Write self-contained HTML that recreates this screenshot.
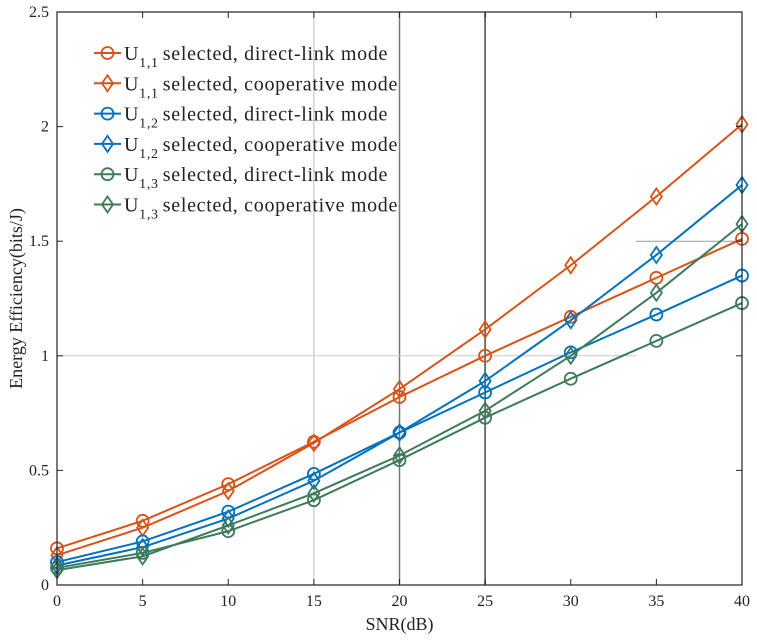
<!DOCTYPE html>
<html><head><meta charset="utf-8"><style>
body{margin:0;background:#fff;}
svg text{font-family:"Liberation Serif",serif;fill:#222;}
</style></head><body>
<svg id="chart" width="757" height="638" xmlns="http://www.w3.org/2000/svg">
<g id="grid"></g>
<g id="series"></g>
<g id="axes"></g>
<g id="legend"></g>
</svg>
<script>
const snr = [0,5,10,15,20,25,30,35,40];
const u11Direct = [0.16,0.28,0.44,0.625,0.82,1.0,1.17,1.34,1.51];
const u11Coop = [0.13,0.25,0.41,0.62,0.855,1.115,1.395,1.695,2.01];
const u12Direct = [0.10,0.19,0.32,0.485,0.665,0.84,1.015,1.18,1.35];
const u12Coop = [0.085,0.165,0.29,0.455,0.665,0.89,1.155,1.44,1.745];
const u13Direct = [0.075,0.14,0.235,0.37,0.545,0.73,0.90,1.065,1.23];
const u13Coop = [0.065,0.125,0.26,0.40,0.565,0.76,1.0,1.275,1.575];
const xTicks = [0,5,10,15,20,25,30,35,40];
const yTicks = [0,0.5,1,1.5,2,2.5];
const yTickLabels = ["0","0.5","1","1.5","2","2.5"];

const NS="http://www.w3.org/2000/svg";
const L=57,R=742,T=12,B=585;
const xs=v=>L+(v-0)/(40-0)*(R-L);
const ys=v=>B-(v/2.5)*(B-T);
function mk(tag,attrs,parent){const e=document.createElementNS(NS,tag);for(const k in attrs)e.setAttribute(k,attrs[k]);parent.appendChild(e);return e;}
const grid=document.getElementById('grid'),axes=document.getElementById('axes'),sg=document.getElementById('series'),lg=document.getElementById('legend');

let g;
g=mk('line',{x1:xs(15),x2:xs(15),y1:T,y2:B,stroke:'#bbb','stroke-width':1},grid);

g=mk('line',{x1:xs(20),x2:xs(20),y1:T,y2:B,stroke:'#777','stroke-width':1.5},grid);

g=mk('line',{x1:xs(25),x2:xs(25),y1:T,y2:B,stroke:'#666','stroke-width':1.8},grid);

g=mk('line',{x1:L,x2:636,y1:ys(1),y2:ys(1),stroke:'#ccc','stroke-width':1},grid);

g=mk('line',{x1:636,x2:R,y1:ys(1.5),y2:ys(1.5),stroke:'#999','stroke-width':1},grid);


const box=mk('rect',{x:L,y:T,width:R-L,height:B-T,fill:'none',stroke:'#222','stroke-width':1.2},axes);

xTicks.forEach(t=>{
 mk('line',{x1:xs(t),x2:xs(t),y1:B,y2:B-6,stroke:'#222'},axes);
 mk('line',{x1:xs(t),x2:xs(t),y1:T,y2:T+6,stroke:'#222'},axes);
 const tx=mk('text',{x:xs(t),y:B+21,'text-anchor':'middle','font-size':16},axes);tx.textContent=t;
 
});
yTicks.forEach((t,i)=>{
 mk('line',{x1:L,x2:L+6,y1:ys(t),y2:ys(t),stroke:'#222'},axes);
 mk('line',{x1:R,x2:R-6,y1:ys(t),y2:ys(t),stroke:'#222'},axes);
 const tx=mk('text',{x:L-8,y:ys(t)+5,'text-anchor':'end','font-size':16},axes);tx.textContent=yTickLabels[i];
 
});
let at=mk('text',{x:(L+R)/2,y:630,'text-anchor':'middle','font-size':18},axes);at.textContent='SNR(dB)';

at=mk('text',{x:0,y:0,'text-anchor':'middle','font-size':18,transform:'translate(22,'+((T+B)/2)+') rotate(-90)'},axes);at.textContent='Energy Efficiency(bits/J)';


const OR='#d95319',BL='#0072bd',GR='#3e7b5a';
const series=[
 {d:u11Direct,c:OR,m:'o',sub:'1,1',lab:'selected, direct-link mode',n:'u11-direct'},
 {d:u11Coop,c:OR,m:'d',sub:'1,1',lab:'selected, cooperative mode',n:'u11-cooperative'},
 {d:u12Direct,c:BL,m:'o',sub:'1,2',lab:'selected, direct-link mode',n:'u12-direct'},
 {d:u12Coop,c:BL,m:'d',sub:'1,2',lab:'selected, cooperative mode',n:'u12-cooperative'},
 {d:u13Direct,c:GR,m:'o',sub:'1,3',lab:'selected, direct-link mode',n:'u13-direct'},
 {d:u13Coop,c:GR,m:'d',sub:'1,3',lab:'selected, cooperative mode',n:'u13-cooperative'}];
function marker(m,x,y,c,parent){
 if(m==='o')return mk('circle',{cx:x,cy:y,r:6,fill:'none',stroke:c,'stroke-width':1.8},parent);
 return mk('polygon',{points:`${x},${y-8} ${x+5.5},${y} ${x},${y+8} ${x-5.5},${y}`,fill:'none',stroke:c,'stroke-width':1.8},parent);
}
series.forEach(s=>{
 const grp=mk('g',{},sg);
 
 const pl=mk('polyline',{points:s.d.map((v,i)=>xs(snr[i])+','+ys(v)).join(' '),fill:'none',stroke:s.c,'stroke-width':2},grp);
 
 s.d.forEach((v,i)=>{const mm=marker(s.m,xs(snr[i]),ys(v),s.c,grp);
  });
});
series.forEach((s,i)=>{
 const y=53+i*30.3;
 const e=mk('g',{},lg);
 
 mk('line',{x1:94,x2:121,y1:y,y2:y,stroke:s.c,'stroke-width':2},e);
 marker(s.m,107.5,y,s.c,e);
 const t=mk('text',{x:124,y:y+7,'font-size':20,'letter-spacing':0.7},e);
 t.innerHTML='U<tspan font-size="14" dy="7">'+s.sub+'</tspan><tspan dy="-7" dx="4">'+s.lab+'</tspan>';
});
</script>
</body></html>
